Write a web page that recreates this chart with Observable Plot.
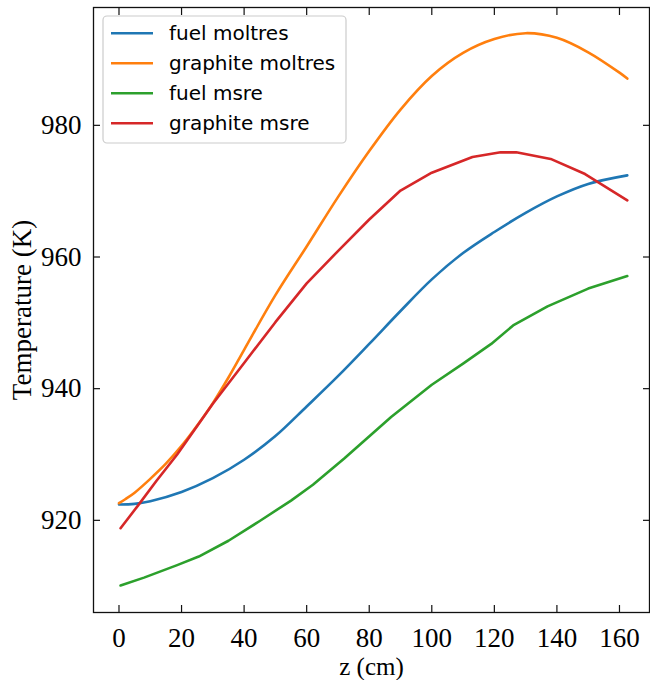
<!DOCTYPE html>
<html><head><meta charset="utf-8">
<script src="https://cdn.jsdelivr.net/npm/d3@7"></script>
<script src="https://cdn.jsdelivr.net/npm/@observablehq/plot@0.6"></script>
<style>
body{margin:0;background:#fff}
#chart{width:650px;height:680px}
</style>
</head><body><div id="chart"></div>
<script>
const seriesNames = ["fuel moltres", "graphite moltres", "fuel msre", "graphite msre"];
const seriesColors = ["#1f77b4", "#ff7f0e", "#2ca02c", "#d62728"];

const fuelMoltresZ = [0, 5, 10, 20, 30, 40, 50, 60, 70, 80, 90, 100, 110, 120, 130, 140, 150, 162.5];
const fuelMoltresT = [922.4, 922.5, 922.9, 924.3, 926.4, 929.2, 932.8, 937.3, 941.9, 946.8, 951.8, 956.6, 960.6, 963.8, 966.7, 969.2, 971.1, 972.4];

const graphiteMoltresZ = [0, 2, 5, 10, 15, 20, 25, 30, 35, 40, 50, 60, 70, 80, 90, 100, 110, 120, 130, 140, 150, 160, 162.5];
const graphiteMoltresT = [922.6, 923.2, 924.2, 926.3, 928.6, 931.3, 934.4, 937.8, 941.7, 945.9, 954.2, 961.6, 969.1, 976.1, 982.4, 987.5, 991.0, 993.1, 994.0, 993.3, 991.1, 988.0, 987.1];

const fuelMsreZ = [0.5, 8, 18.6, 25.5, 35, 45, 55, 62, 72, 87, 100, 110, 119, 126, 137, 150, 162.5];
const fuelMsreT = [910.1, 911.3, 913.2, 914.5, 916.9, 919.9, 923.0, 925.4, 929.4, 935.7, 940.6, 943.8, 946.8, 949.6, 952.5, 955.2, 957.1];

const graphiteMsreZ = [0.5, 6, 12, 18.6, 30, 40, 50, 60, 70, 80, 90, 100, 113, 122, 127, 138, 149, 162.5];
const graphiteMsreT = [918.8, 922.2, 926.0, 930.0, 937.7, 943.9, 950.1, 956.0, 960.9, 965.7, 970.1, 972.8, 975.2, 975.9, 975.9, 974.9, 972.6, 968.6];

const xTicks = [0, 20, 40, 60, 80, 100, 120, 140, 160];
const yTicks = [920, 940, 960, 980];
const xLabel = "z (cm)";
const yLabel = "Temperature (K)";

const seriesZ = [fuelMoltresZ, graphiteMoltresZ, fuelMsreZ, graphiteMsreZ];
const seriesT = [fuelMoltresT, graphiteMoltresT, fuelMsreT, graphiteMsreT];
const seriesCurve = ["catmull-rom", "catmull-rom", "linear", "linear"];

const serif = "'Liberation Serif', 'Times New Roman', serif";
const fs = 27;

const lineMarks = seriesNames.map((name, i) =>
  Plot.line(seriesZ[i].map((z, j) => ({z, T: seriesT[i][j], series: name})), {
    x: "z", y: "T", stroke: "series", strokeWidth: 2.6, curve: seriesCurve[i]
  })
);

const chart = Plot.plot({
  width: 650,
  height: 680,
  marginLeft: 93,
  marginRight: 1,
  marginTop: 7,
  marginBottom: 68,
  style: {background: "#fff", overflow: "visible"},
  x: {domain: [-8.15, 169.6], label: null},
  y: {domain: [906.0, 997.9], label: null},
  color: {domain: seriesNames, range: seriesColors},
  marks: [
    ...lineMarks,
    Plot.frame({stroke: "#111", strokeWidth: 1.3}),
    Plot.axisX({ticks: xTicks, anchor: "bottom", tickSize: -7, fill: "none", label: null, stroke: "#111", strokeWidth: 1.2}),
    Plot.axisX({ticks: xTicks, anchor: "top", tickSize: -7, fill: "none", label: null, stroke: "#111", strokeWidth: 1.2}),
    Plot.axisY({ticks: yTicks, anchor: "left", tickSize: -7, fill: "none", label: null, stroke: "#111", strokeWidth: 1.2}),
    Plot.axisY({ticks: yTicks, anchor: "right", tickSize: -7, fill: "none", label: null, stroke: "#111", strokeWidth: 1.2}),
    Plot.axisX({ticks: xTicks, anchor: "bottom", tickSize: 0, tickPadding: 15, label: null, fontSize: fs, fontFamily: serif, fill: "#000"}),
    Plot.axisY({ticks: yTicks, anchor: "left", tickSize: 0, tickPadding: 12, label: null, fontSize: fs, fontFamily: serif, fill: "#000"}),
    Plot.text([xLabel], {text: d => d, frameAnchor: "bottom", textAnchor: "middle", dy: 54, lineAnchor: "middle", fontSize: 25, fontFamily: serif, fill: "#000"}),
    Plot.text([yLabel], {text: d => d, frameAnchor: "left", textAnchor: "middle", dx: -71, rotate: -90, lineAnchor: "middle", fontSize: fs, fontFamily: serif, fill: "#000"})
  ]
});

document.getElementById("chart").appendChild(chart);

// Legend (matplotlib-style, upper left inside axes)
const svg = d3.select(chart);
const lg = svg.append("g").attr("class", "legend").attr("text-anchor", "start");
lg.append("rect")
  .attr("x", 103).attr("y", 16).attr("width", 243).attr("height", 127)
  .attr("rx", 4).attr("fill", "#fff").attr("fill-opacity", 0.8)
  .attr("stroke", "#cccccc").attr("stroke-width", 1.2);
seriesNames.forEach((name, i) => {
  const cy = 33.3 + i * 30;
  lg.append("line").attr("x1", 111).attr("x2", 153).attr("y1", cy).attr("y2", cy)
    .attr("stroke", seriesColors[i]).attr("stroke-width", 2.6);
  lg.append("text").attr("x", 169).attr("y", cy).attr("dy", "0.35em")
    .attr("text-anchor", "start")
    .attr("font-family", "'DejaVu Sans', sans-serif").attr("font-size", 20)
    .attr("fill", "#000").text(name);
});
</script>
</body></html>
